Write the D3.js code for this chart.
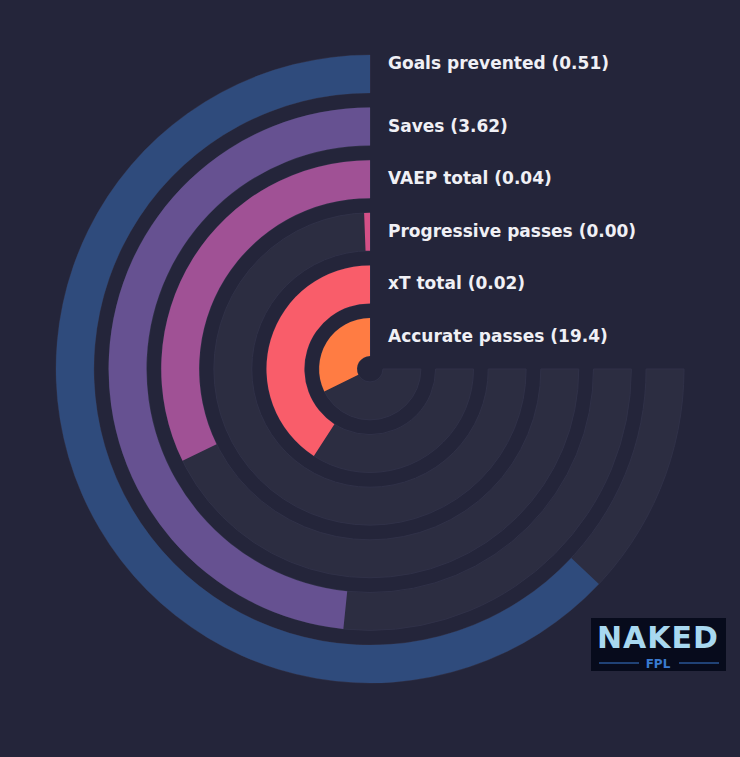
<!DOCTYPE html>
<html><head><meta charset="utf-8">
<script src="https://cdn.jsdelivr.net/npm/d3@7"></script>
<style>body{margin:0;background:#24253a;}</style></head>
<body><svg id="c" width="740" height="757"></svg>
<script>
const metrics = ["Goals prevented","Saves","VAEP total","Progressive passes","xT total","Accurate passes"];
const valueLabels = ["0.51","3.62","0.04","0.00","0.02","19.4"];
const fractions = [0.84,0.645,0.43,0.008,0.545,0.43];
const colors = ["#2f4b7c","#665191","#a05195","#d45087","#f95d6a","#ff7c43"];

const svg = d3.select("#c");
const cx=370, cy=369;
svg.append("rect").attr("width",740).attr("height",757).attr("fill","#24253a");
const g = svg.append("g").attr("transform",`translate(${cx},${cy})`);
const r = d3.scaleBand().domain(metrics.slice().reverse()).range([13,314]).paddingInner(0.28).paddingOuter(0);
const a = d3.scaleLinear().domain([0,1]).range([0,-1.5*Math.PI]);
const arc = d3.arc().innerRadius(d=>r(d)).outerRadius(d=>r(d)+r.bandwidth());
metrics.forEach((m,i)=>{
  g.append("path").attr("d",arc.startAngle(0).endAngle(a(1))(m)).attr("fill","#2c2d41").attr("stroke","#303148").attr("stroke-width",1);
  g.append("path").attr("d",arc.startAngle(0).endAngle(a(fractions[i]))(m)).attr("fill",colors[i]);
  g.append("text").attr("x",18).attr("y",-(r(m)+r.bandwidth()/2)+(i===0?-5:5)).attr("fill","#f0f0f5")
    .attr("font-family","DejaVu Sans").attr("font-weight","bold").attr("font-size",17)
    .text(`${m} (${valueLabels[i]})`);
});
const lg = svg.append("g").attr("transform","translate(591,618)");
lg.append("rect").attr("width",135).attr("height",53).attr("fill","#070b1c");
lg.append("text").attr("x",67).attr("y",30).attr("text-anchor","middle").attr("fill","#a8d8f0")
  .attr("font-family","DejaVu Sans").attr("font-weight","bold").attr("font-size",30).attr("letter-spacing",1).text("NAKED");
lg.append("line").attr("x1",8).attr("x2",48).attr("y1",45).attr("y2",45).attr("stroke","#3a7ad0");
lg.append("line").attr("x1",88).attr("x2",128).attr("y1",45).attr("y2",45).attr("stroke","#3a7ad0");
lg.append("text").attr("x",67).attr("y",50).attr("text-anchor","middle").attr("fill","#3a7ad0")
  .attr("font-family","DejaVu Sans").attr("font-weight","bold").attr("font-size",12).text("FPL");
</script></body></html>
